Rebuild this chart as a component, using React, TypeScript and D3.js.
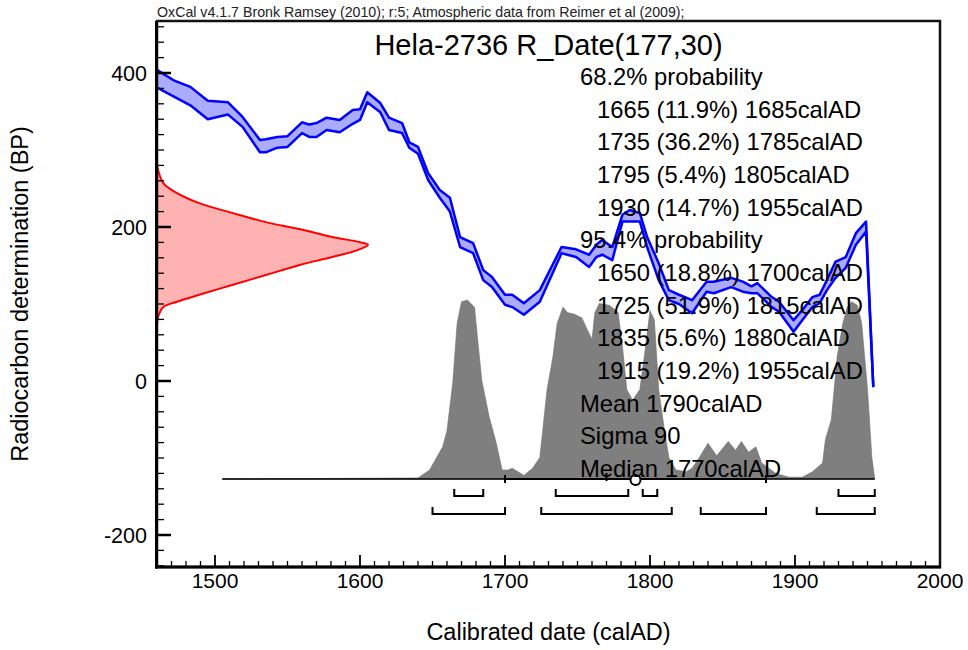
import React from "react";
import * as d3 from "d3";

// ---- Data ----
const curveYears = [1460,1472,1483,1495,1509,1519,1531,1535,1543,1550,1560,1565,1570,1577,1586,1595,1600,1605,1614,1620,1629,1634,1640,1647,1655,1662,1669,1678,1685,1691,1700,1705,1713,1724,1739,1749,1758,1763,1767,1774,1781,1786,1793,1798,1806,1813,1820,1829,1839,1844,1856,1864,1870,1874,1884,1889,1899,1905,1912,1917,1922,1928,1935,1942,1949,1954];
const curveUpper = [404,390,382,364,362,343,313,314,317,318,336,333,335,342,339,352,353,375,361,342,335,310,304,270,248,238,187,179,144,135,112,112,101,118,174,171,164,177,183,174,216,222,218,187,153,118,112,105,129,129,134,129,123,127,109,103,79,92,109,112,131,155,161,192,207,-8];
const curveLower = [381,369,358,340,346,330,297,297,303,304,322,317,317,326,323,334,339,362,349,326,322,303,295,261,238,220,174,166,131,122,99,96,86,103,166,161,148,161,164,157,207,207,207,174,131,105,100,88,116,114,122,116,114,114,96,90,64,79,96,101,118,134,147,177,194,-8];

const postYears = [1505,1640,1648,1657,1660,1664,1667,1670,1674,1679,1681,1684,1689,1694,1698,1702,1705,1709,1713,1719,1724,1726,1729,1733,1736,1740,1743,1748,1753,1757,1760,1762,1765,1772,1778,1781,1784,1788,1793,1796,1800,1803,1806,1810,1813,1818,1825,1829,1834,1840,1846,1854,1859,1863,1868,1873,1877,1887,1896,1905,1912,1919,1921,1925,1927,1929,1933,1936,1939,1943,1946,1950,1953,1955];
const postProb = [0,0.006,0.05,0.18,0.27,0.54,0.87,0.99,1.00,0.96,0.79,0.55,0.35,0.20,0.05,0.05,0.06,0.04,0.02,0.06,0.12,0.27,0.50,0.68,0.87,0.96,0.93,0.92,0.90,0.83,0.78,0.93,0.98,0.97,0.93,0.74,0.50,0.44,0.50,0.68,0.94,0.89,0.50,0.27,0.12,0.05,0.04,0.06,0.12,0.20,0.13,0.21,0.16,0.21,0.15,0.18,0.09,0.03,0.01,0.01,0.04,0.09,0.22,0.33,0.50,0.68,0.87,0.96,0.99,0.97,0.87,0.50,0.12,0];

const rDateBP = [280,257,244,231,218,206,197,187,181,177,170,161,151,138,125,112,103,96,83,72];
const rDateProb = [0,0.03,0.095,0.20,0.36,0.52,0.68,0.83,0.95,1.0,0.95,0.83,0.68,0.52,0.36,0.20,0.095,0.03,0.005,0];

const range68 = [[1665,1685],[1735,1785],[1795,1805],[1930,1955]];
const range95 = [[1650,1700],[1725,1815],[1835,1880],[1915,1955]];
const meanYear = 1790;
const sigmaYears = 90;
const medianYear = 1770;
const baselineStart = 1505;
const baselineEnd = 1955;

const xTickLabels = [1500,1600,1700,1800,1900,2000];
const yTickLabels = [-200,0,200,400];

const headerText = "OxCal v4.1.7 Bronk Ramsey (2010); r:5; Atmospheric data from Reimer et al (2009);";
const titleText = "Hela-2736 R_Date(177,30)";
const infoLines: [string, boolean][] = [
  ["68.2% probability", false],
  ["1665 (11.9%) 1685calAD", true],
  ["1735 (36.2%) 1785calAD", true],
  ["1795 (5.4%) 1805calAD", true],
  ["1930 (14.7%) 1955calAD", true],
  ["95.4% probability", false],
  ["1650 (18.8%) 1700calAD", true],
  ["1725 (51.9%) 1815calAD", true],
  ["1835 (5.6%) 1880calAD", true],
  ["1915 (19.2%) 1955calAD", true],
  ["Mean 1790calAD", false],
  ["Sigma 90", false],
  ["Median 1770calAD", false],
];

const FONT = "'Liberation Sans', Arial, Helvetica, sans-serif";

export default function App() {
  const W = 968, H = 650;
  const left = 157, right = 940, top = 21, bottom = 567;
  const x = d3.scaleLinear().domain([1460, 2000]).range([left, right]);
  const y = d3.scaleLinear().domain([-200, 400]).range([535, 73]);
  const baseY = 479;
  const pScale = d3.scaleLinear().domain([0, 1]).range([baseY, 300]);
  const rScale = d3.scaleLinear().domain([0, 1]).range([left, 368]);

  const curve = curveYears.map((yr, i) => ({ yr, up: curveUpper[i], lo: curveLower[i] }));
  const band = d3.area<any>().x(d => x(d.yr)).y0(d => y(d.lo)).y1(d => y(d.up))(curve) || "";
  const upLine = d3.line<any>().x(d => x(d.yr)).y(d => y(d.up))(curve) || "";
  const loLine = d3.line<any>().x(d => x(d.yr)).y(d => y(d.lo))(curve) || "";

  const post = postYears.map((yr, i) => ({ yr, p: postProb[i] }));
  const postArea = d3.area<any>().x(d => x(d.yr)).y0(baseY).y1(d => pScale(d.p))(post) || "";

  const red = rDateBP.map((bp, i) => ({ bp, p: rDateProb[i] }));
  const redArea = d3.area<any>().y(d => y(d.bp)).x0(left).x1(d => rScale(d.p)).curve(d3.curveCatmullRom)(red) || "";
  const redLine = d3.line<any>().y(d => y(d.bp)).x(d => rScale(d.p)).curve(d3.curveCatmullRom)(red) || "";

  const yMinor = d3.range(-240, 461, 20);
  const xMinor = d3.range(1470, 2001, 10);

  const bracket = (r: number[], by: number, key: string) => {
    const x0 = x(r[0]), x1 = x(r[1]);
    return <path key={key} d={`M${x0},${by - 7}V${by}H${x1}V${by - 7}`} fill="none" stroke="#000" strokeWidth={2} />;
  };

  return (
    <svg width={W} height={H} style={{ position: "absolute", left: 0, top: 0, background: "#fff" }} fontFamily={FONT}>
      <rect x={0} y={0} width={W} height={H} fill="#fff" />
      <defs>
        <clipPath id="plot"><rect x={left} y={top} width={right - left} height={bottom - top} /></clipPath>
      </defs>
      <g clipPath="url(#plot)">
        <path d={postArea} fill="#7f7f7f" stroke="#6f6f6f" strokeWidth={0.6} />
        <line x1={x(baselineStart)} x2={x(baselineEnd)} y1={baseY} y2={baseY} stroke="#000" strokeWidth={1.5} />
        <path d={redArea} fill="rgba(255,0,0,0.3)" stroke="none" />
        <path d={redLine} fill="none" stroke="#ff0000" strokeWidth={2} />
        <path d={band} fill="rgba(0,0,255,0.33)" stroke="none" />
        <path d={upLine} fill="none" stroke="#0000ff" strokeWidth={2.5} strokeLinejoin="round" />
        <path d={loLine} fill="none" stroke="#0000ff" strokeWidth={2.5} strokeLinejoin="round" />
        {/* mean +- sigma */}
        <line x1={x(meanYear - sigmaYears)} x2={x(meanYear + sigmaYears)} y1={baseY} y2={baseY} stroke="#000" strokeWidth={2} />
        <line x1={x(meanYear - sigmaYears)} x2={x(meanYear - sigmaYears)} y1={baseY - 4} y2={baseY + 4} stroke="#000" strokeWidth={2} />
        <line x1={x(meanYear + sigmaYears)} x2={x(meanYear + sigmaYears)} y1={baseY - 4} y2={baseY + 4} stroke="#000" strokeWidth={2} />
        <line x1={x(medianYear)} x2={x(medianYear)} y1={baseY - 6} y2={baseY + 2} stroke="#000" strokeWidth={2} />
        <circle cx={x(meanYear)} cy={baseY + 1} r={5} fill="#fff" stroke="#000" strokeWidth={2} />
        {range68.map((r, i) => bracket(r, 496, "a" + i))}
        {range95.map((r, i) => bracket(r, 514, "b" + i))}
      </g>
      {/* ticks */}
      {yMinor.map(v => (
        <line key={"ym" + v} x1={left} x2={left + (v % 200 === 0 ? 14 : 7)} y1={y(v)} y2={y(v)} stroke="#000" strokeWidth={v % 200 === 0 ? 2.5 : 1.3} />
      ))}
      {xMinor.map(v => (
        <line key={"xm" + v} x1={x(v)} x2={x(v)} y1={bottom} y2={bottom - (v % 100 === 0 ? 12 : 6)} stroke="#000" strokeWidth={v % 100 === 0 ? 1.8 : 1.3} />
      ))}
      {/* frame */}
      <rect x={left} y={top} width={right - left} height={bottom - top} fill="none" stroke="#111" strokeWidth={2.5} />
      <line x1={left - 0.5} x2={left - 0.5} y1={top} y2={bottom + 1.5} stroke="#000" strokeWidth={3} />
      <line x1={left - 2} x2={right + 1} y1={bottom} y2={bottom} stroke="#000" strokeWidth={3} />
      {/* tick labels */}
      {yTickLabels.map(v => (
        <text key={"yl" + v} x={147} y={y(v) + 7.5} fontSize={21.5} textAnchor="end" fill="#000">{v}</text>
      ))}
      {xTickLabels.map(v => (
        <text key={"xl" + v} x={x(v)} y={588} fontSize={21} textAnchor="middle" fill="#000">{v}</text>
      ))}
      {/* axis titles */}
      <text x={(left + right) / 2} y={640} fontSize={23.5} textAnchor="middle" fill="#000">Calibrated date (calAD)</text>
      <text transform={`translate(28,${(top + bottom) / 2}) rotate(-90)`} fontSize={23.5} textAnchor="middle" fill="#000">Radiocarbon determination (BP)</text>
      {/* header & title */}
      <text x={left} y={17} fontSize={14.2} fill="#222">{headerText}</text>
      <text x={(left + right) / 2} y={55} fontSize={29} textAnchor="middle" fill="#000">{titleText}</text>
      {infoLines.map(([t, indent], i) => (
        <text key={"il" + i} x={indent ? 597 : 580} y={85 + i * 32.65} fontSize={23.8} fill="#000">{t}</text>
      ))}
    </svg>
  );
}
